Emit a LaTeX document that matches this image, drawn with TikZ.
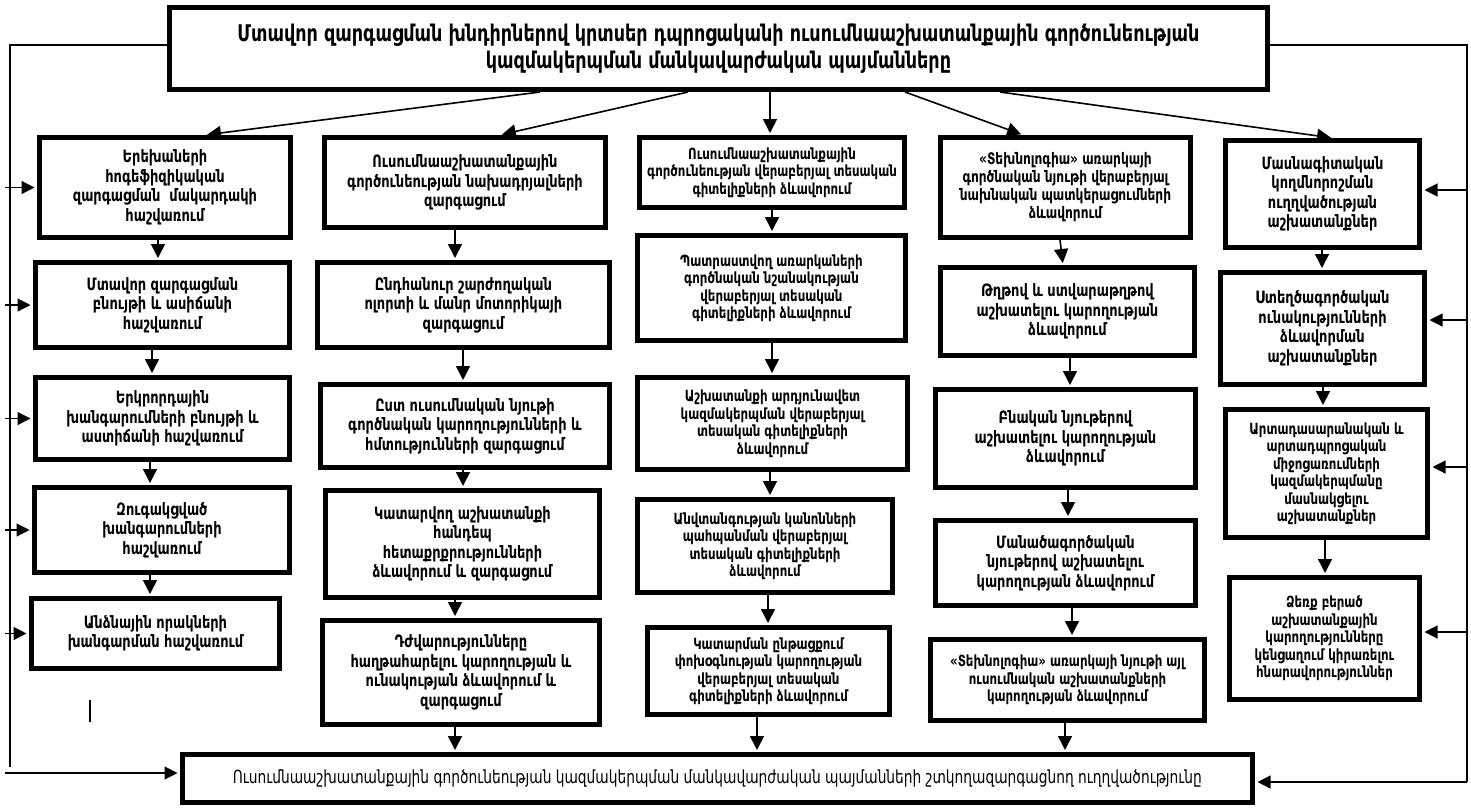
\documentclass[tikz,border=0pt]{standalone}
\usepackage{fontspec}
\usetikzlibrary{arrows.meta}
\newfontfamily\armfont{DejaVuSansCondensed}[Extension=.ttf, BoldFont=DejaVuSansCondensed-Bold, FakeStretch=0.85]

\tikzset{
blk/.style={draw, line width=5pt, align=center, inner sep=2pt, font=\armfont\bfseries\fontsize{17}{19.5}\selectfont},
blkm/.style={blk, font=\armfont\bfseries\fontsize{15.9}{18}\selectfont},
blks/.style={blk, font=\armfont\bfseries\fontsize{15.4}{17.5}\selectfont},
arr/.style={line width=1.6pt, -{Triangle[length=14pt,width=14pt]}, shorten >=2pt},
side/.style={line width=1.2pt},
sarr/.style={side, -{Triangle[length=13pt,width=13pt]}, shorten >=2.5pt}
}

\begin{document}
\begin{tikzpicture}[x=1pt,y=-1pt]
\useasboundingbox (0,0) rectangle (1471,807);

\node[blk, minimum width=1098pt, minimum height=82pt, font=\armfont\bfseries\fontsize{23}{27}\selectfont] (title) at (718.5,48.5)
{Մտավոր զարգացման խնդիրներով կրտսեր դպրոցականի ուսումնաաշխատանքային գործունեության\\ կազմակերպման մանկավարժական պայմանները};
\node[blk, minimum width=1070pt, minimum height=48pt, font=\armfont\fontsize{18}{20}\selectfont] (bot) at (717.5,778.5)
{Ուսումնաաշխատանքային գործունեության կազմակերպման մանկավարժական պայմանների շտկողազարգացնող ուղղվածությունը};

\node[blk, minimum width=251pt, minimum height=100pt] (c1a) at (165,187.5) {Երեխաների\\ հոգեֆիզիկական\\ զարգացման~ մակարդակի\\ հաշվառում};
\node[blk, minimum width=254pt, minimum height=85pt] (c1b) at (162.5,305) {Մտավոր զարգացման\\ բնույթի և ասիճանի\\ հաշվառում};
\node[blk, minimum width=254pt, minimum height=82pt] (c1c) at (162.5,418.5) {Երկրորդային\\ խանգարումների բնույթի և\\ աստիճանի հաշվառում};
\node[blk, minimum width=255pt, minimum height=85pt] (c1d) at (162,530) {Զուգակցված\\ խանգարումների\\ հաշվառում};
\node[blk, minimum width=248pt, minimum height=70pt] (c1e) at (155.5,633.5) {Անձնային որակների\\ խանգարման հաշվառում};

\node[blk, minimum width=281pt, minimum height=90pt] (c2a) at (465,182.5) {Ուսումնաաշխատանքային\\ գործունեության նախադրյալների\\ զարգացում};
\node[blk, minimum width=292pt, minimum height=85pt] (c2b) at (463.5,305) {Ընդհանուր շարժողական\\ ոլորտի և մանր մոտորիկայի\\ զարգացում};
\node[blk, minimum width=289pt, minimum height=83pt] (c2c) at (465,426) {Ըստ ուսումնական նյութի\\ գործնական կարողությունների և\\ հմտությունների զարգացում};
\node[blk, minimum width=274pt, minimum height=107pt] (c2d) at (462.5,544) {Կատարվող աշխատանքի\\ հանդեպ\\ հետաքրքրությունների\\ ձևավորում և զարգացում};
\node[blk, minimum width=277pt, minimum height=104pt] (c2e) at (461,672.5) {Դժվարությունները\\ հաղթահարելու կարողության և\\ ունակության ձևավորում և\\ զարգացում};

\node[blks, minimum width=265pt, minimum height=70pt] (c3a) at (772,172.5) {Ուսումնաաշխատանքային\\ գործունեության վերաբերյալ տեսական\\ գիտելիքների ձևավորում};
\node[blks, minimum width=268pt, minimum height=105pt] (c3b) at (771.5,288) {Պատրաստվող առարկաների\\ գործնական նշանակության\\ վերաբերյալ տեսական\\ գիտելիքների ձևավորում};
\node[blks, minimum width=270pt, minimum height=92pt] (c3c) at (772.5,423.5) {Աշխատանքի արդյունավետ\\ կազմակերպման վերաբերյալ\\ տեսական գիտելիքների\\ ձևավորում};
\node[blks, minimum width=255pt, minimum height=93pt] (c3d) at (765,546) {Անվտանգության կանոնների\\ պահպանման վերաբերյալ\\ տեսական գիտելիքների\\ ձևավորում};
\node[blks, minimum width=242pt, minimum height=87pt] (c3e) at (768.5,671) {Կատարման ընթացքում\\ փոխօգնության կարողության\\ վերաբերյալ տեսական\\ գիտելիքների ձևավորում};

\node[blkm, minimum width=250pt, minimum height=100pt] (c4a) at (1065.5,187.5) {«Տեխնոլոգիա» առարկայի\\ գործնական նյութի վերաբերյալ\\ նախնական պատկերացումների\\ ձևավորում};
\node[blk, minimum width=254pt, minimum height=88pt] (c4b) at (1067.5,311.5) {Թղթով և ստվարաթղթով\\ աշխատելու կարողության\\ ձևավորում};
\node[blk, minimum width=260pt, minimum height=98pt] (c4c) at (1065.5,438.5) {Բնական նյութերով\\ աշխատելու կարողության\\ ձևավորում};
\node[blk, minimum width=260pt, minimum height=85pt] (c4d) at (1065.5,563) {Մանածագործական\\ նյութերով աշխատելու\\ կարողության ձևավորում};
\node[blks, minimum width=274pt, minimum height=81pt] (c4e) at (1067.5,680) {«Տեխնոլոգիա» առարկայի նյութի այլ\\ ուսումնական աշխատանքների\\ կարողության ձևավորում};

\node[blk, minimum width=194pt, minimum height=107pt] (c5a) at (1322.5,194) {Մասնագիտական\\ կողմնորոշման\\ ուղղվածության\\ աշխատանքներ};
\node[blk, minimum width=204pt, minimum height=112pt] (c5b) at (1322.5,328.5) {Ստեղծագործական\\ ունակությունների\\ ձևավորման\\ աշխատանքներ};
\node[blks, minimum width=202pt, minimum height=128pt] (c5c) at (1326.5,473.5) {Արտադասարանական և\\ արտադպրոցական\\ միջոցառումների\\ կազմակերպմանը\\ մասնակցելու\\ աշխատանքներ};
\node[blks, minimum width=190pt, minimum height=122pt] (c5d) at (1324.5,638.5) {Ձեռք բերած\\ աշխատանքային\\ կարողությունները\\ կենցաղում կիրառելու\\ հնարավորություններ};

\draw[arr] (540,0 |- title.south) -- (205,0 |- c1a.north);
\draw[arr] (688,0 |- title.south) -- (500,0 |- c2a.north);
\draw[arr] (770,0 |- title.south) -- (770,0 |- c3a.north);
\draw[arr] (905,0 |- title.south) -- (1023,0 |- c4a.north);
\draw[arr] (1000,0 |- title.south) -- (1333,0 |- c5a.north);

\draw[arr] (158,0 |- c1a.south) -- (158,0 |- c1b.north);
\draw[arr] (152,0 |- c1b.south) -- (152,0 |- c1c.north);
\draw[arr] (150,0 |- c1c.south) -- (150,0 |- c1d.north);
\draw[arr] (150,0 |- c1d.south) -- (150,0 |- c1e.north);

\draw[arr] (455,0 |- c2a.south) -- (455,0 |- c2b.north);
\draw[arr] (463,0 |- c2b.south) -- (463,0 |- c2c.north);
\draw[arr] (463,0 |- c2c.south) -- (463,0 |- c2d.north);
\draw[arr] (455,0 |- c2d.south) -- (455,0 |- c2e.north);
\draw[arr] (455,0 |- c2e.south) -- (455,0 |- bot.north);

\draw[arr] (772,0 |- c3a.south) -- (772,0 |- c3b.north);
\draw[arr] (772,0 |- c3b.south) -- (772,0 |- c3c.north);
\draw[arr] (770,0 |- c3c.south) -- (770,0 |- c3d.north);
\draw[arr] (768,0 |- c3d.south) -- (768,0 |- c3e.north);
\draw[arr] (757,0 |- c3e.south) -- (757,0 |- bot.north);

\draw[arr] (1060,0 |- c4a.south) -- (1063,0 |- c4b.north);
\draw[arr] (1070,0 |- c4b.south) -- (1070,0 |- c4c.north);
\draw[arr] (1068,0 |- c4c.south) -- (1068,0 |- c4d.north);
\draw[arr] (1072,0 |- c4d.south) -- (1072,0 |- c4e.north);
\draw[arr] (1065,0 |- c4e.south) -- (1065,0 |- bot.north);

\draw[arr] (1322,0 |- c5a.south) -- (1322,0 |- c5b.north);
\draw[arr] (1323,0 |- c5b.south) -- (1323,0 |- c5c.north);
\draw[arr] (1325,0 |- c5c.south) -- (1325,0 |- c5d.north);

\draw[side] (title.west |- 0,45) -| (10,767);
\foreach \n in {c1a,c1b,c1c,c1d,c1e}
{
\draw[sarr] (5,0 |- \n.west) -- (\n.west);
}
\draw[sarr] (5,773) -- (bot.west |- 0,773);

\draw[side] (title.east |- 0,45) -| (1467,782);
\foreach \n/\y in {c5a/190,c5b/320,c5c/467,c5d/632,bot/782}
{
\draw[sarr] (1467,\y) -- (\n.east |- 0,\y);
}

\draw[side] (90,700) -- (90,722);
\end{tikzpicture}
\end{document}
